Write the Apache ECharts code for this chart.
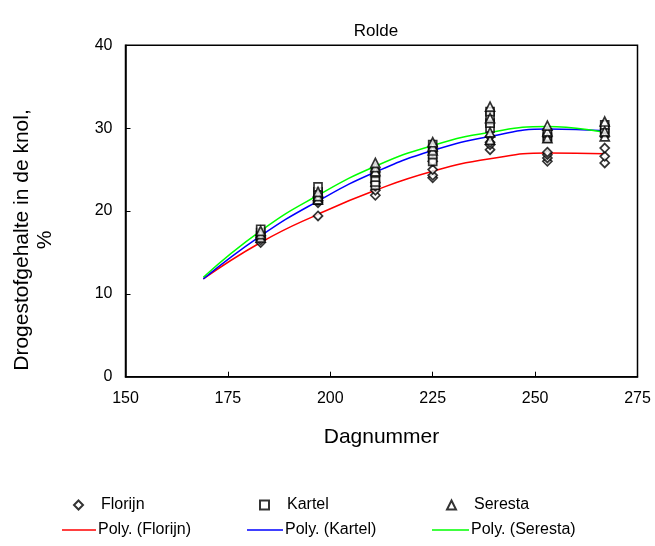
<!DOCTYPE html>
<html>
<head>
<meta charset="utf-8">
<script src="https://cdn.jsdelivr.net/npm/echarts@6/dist/echarts.min.js"></script>
<style>
html,body{margin:0;padding:0;background:#fff;}
#chart{width:655px;height:546px;}
</style>
</head>
<body>
<div id="chart"></div>
<script>
// ---- data ----
const title = 'Rolde';
const xAxisName = 'Dagnummer';
const yAxisName = 'Drogestofgehalte in de knol,\n%';
const xTicks = [150, 175, 200, 225, 250, 275];
const yTicks = [0, 10, 20, 30, 40];

// scatter observations: [day, value]
const florijn = [
  [183,16.2],[183,16.5],[183,16.8],[183,17.0],
  [197,19.4],[197,21.0],[197,21.3],[197,21.6],
  [211,21.9],[211,22.5],[211,23.0],[211,23.4],
  [225,24.0],[225,24.3],[225,25.0],[225,26.0],
  [239,27.4],[239,28.0],[239,28.3],[239,29.0],
  [253,26.0],[253,26.4],[253,26.8],[253,27.1],
  [267,25.8],[267,26.6],[267,27.6]
];
const kartel = [
  [183,17.0],[183,17.4],[183,17.8],
  [197,21.3],[197,21.8],[197,22.3],[197,22.9],
  [211,23.1],[211,23.5],[211,24.1],[211,24.6],
  [225,26.0],[225,26.8],[225,27.4],[225,28.0],
  [239,30.0],[239,30.6],[239,31.4],[239,32.0],
  [253,28.8],[253,29.0],[253,29.4],
  [267,29.4],[267,29.9],[267,30.4]
];
const seresta = [
  [183,16.8],[183,17.2],[183,17.6],
  [197,21.4],[197,21.8],[197,22.3],
  [211,24.8],[211,25.3],[211,25.8],
  [225,27.3],[225,27.8],[225,28.3],
  [239,28.6],[239,29.5],[239,31.2],[239,32.6],
  [253,28.8],[253,29.6],[253,30.3],
  [267,29.0],[267,29.6],[267,30.8]
];

// polynomial trend lines
const trendDays = [169, 183, 197, 211, 225, 239, 253, 267];
const polyFlorijn = [11.8, 16.2, 19.6, 22.5, 24.8, 26.3, 27.0, 26.9];
const polyKartel  = [11.8, 17.0, 21.2, 24.7, 27.3, 29.0, 29.9, 29.7];
const polySeresta = [12.0, 17.6, 21.9, 25.4, 27.9, 29.5, 30.2, 29.5];

const names = ['Florijn', 'Kartel', 'Seresta'];
const polyNames = ['Poly. (Florijn)', 'Poly. (Kartel)', 'Poly. (Seresta)'];

// ---- chart ----
const FONT = '"Liberation Sans", Arial, sans-serif';
const pair = (xs, ys) => xs.map((x, i) => [x, ys[i]]);

const markerStyle = {color: '#ffffff', borderColor: '#000000', borderWidth: 1.7};

function scatter(name, data, symbol, size) {
  return {
    name: name, type: 'scatter', data: data, symbol: symbol, symbolSize: size,
    itemStyle: markerStyle, z: 5, silent: true
  };
}
function trend(name, data, color) {
  return {
    name: name, type: 'line', data: data, symbol: 'none', smooth: true,
    lineStyle: {color: color, width: 1.5}, itemStyle: {color: color}, z: 3, silent: true
  };
}

function markerLegend(name, left, top) {
  return {
    data: [name], left: left, top: top, itemWidth: 9, itemHeight: 9,
    itemGap: 0, padding: 0, selectedMode: false,
    textStyle: {fontFamily: FONT, fontSize: 16, color: '#000', padding: [0, 0, 0, 13]}
  };
}
function lineLegend(name, color, left, top, w) {
  return {
    data: [{name: name, icon: 'rect'}], left: left, top: top, itemWidth: w, itemHeight: 1.6,
    itemGap: 0, padding: 0, selectedMode: false,
    itemStyle: {color: color, borderWidth: 0},
    textStyle: {fontFamily: FONT, fontSize: 16, color: '#000', padding: [0, 0, 0, -3]}
  };
}

const chart = echarts.init(document.getElementById('chart'), null, {renderer: 'canvas'});
chart.setOption({
  backgroundColor: '#ffffff',
  animation: false,
  title: {
    text: title, left: 371, top: 18, textAlign: 'center',
    textStyle: {fontFamily: FONT, fontSize: 17, fontWeight: 'normal', color: '#000'}
  },
  grid: {
    left: 125.5, right: 17.5, top: 45.3, bottom: 169.3,
    show: true, borderColor: '#000', borderWidth: 1.5, backgroundColor: 'transparent'
  },
  xAxis: {
    type: 'value', min: xTicks[0], max: xTicks[xTicks.length - 1], interval: 25,
    name: xAxisName, nameLocation: 'middle', nameGap: 50,
    nameTextStyle: {fontFamily: FONT, fontSize: 21, color: '#000'},
    axisLine: {show: true, lineStyle: {color: '#000', width: 1.5}},
    axisTick: {show: true, inside: true, length: 5, lineStyle: {color: '#000', width: 1}},
    axisLabel: {fontFamily: FONT, fontSize: 16, color: '#000', margin: 14},
    splitLine: {show: false}
  },
  yAxis: {
    type: 'value', min: yTicks[0], max: yTicks[yTicks.length - 1], interval: 10,
    axisLine: {show: true, lineStyle: {color: '#000', width: 1.5}},
    axisTick: {show: true, inside: true, length: 5, lineStyle: {color: '#000', width: 1}},
    axisLabel: {fontFamily: FONT, fontSize: 16, color: '#000', margin: 13},
    splitLine: {show: false}
  },
  graphic: [{
    type: 'text', x: 34, y: 240, rotation: Math.PI / 2,
    style: {
      text: yAxisName, fontFamily: FONT, fontSize: 21, fill: '#000',
      textAlign: 'center', textVerticalAlign: 'middle', lineHeight: 23
    }
  }],
  legend: [
    markerLegend(names[0], 73, 497),
    markerLegend(names[1], 259, 497),
    markerLegend(names[2], 446, 497),
    lineLegend(polyNames[0], '#ff0000', 62, 522, 34),
    lineLegend(polyNames[1], '#0000ff', 247, 522, 36),
    lineLegend(polyNames[2], '#00ff00', 432, 522, 37)
  ],
  series: [
    trend(polyNames[0], pair(trendDays, polyFlorijn), '#ff0000'),
    trend(polyNames[1], pair(trendDays, polyKartel), '#0000ff'),
    trend(polyNames[2], pair(trendDays, polySeresta), '#00ff00'),
    scatter(names[0], florijn, 'diamond', 9),
    scatter(names[1], kartel, 'rect', 8),
    scatter(names[2], seresta, 'triangle', 9)
  ]
});
</script>
</body>
</html>
